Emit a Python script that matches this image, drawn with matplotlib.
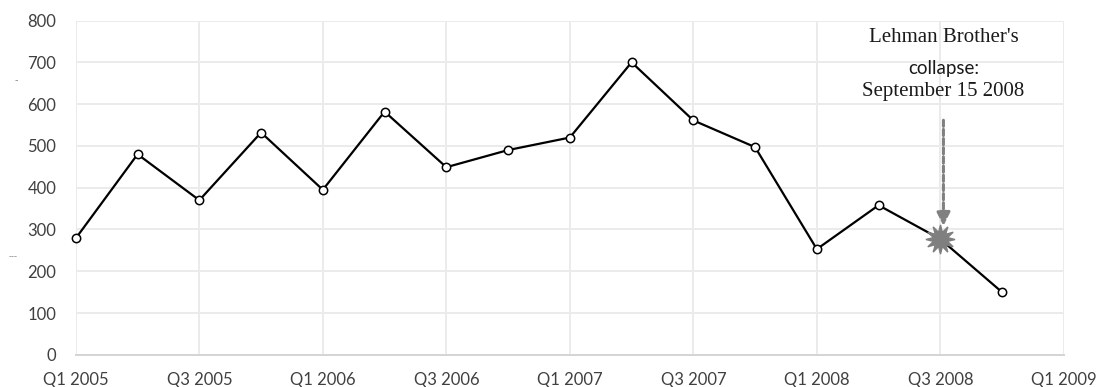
import numpy as np
import matplotlib.pyplot as plt

# Quarterly series, Q1 2005 .. Q4 2008
quarters = ["Q1 2005", "Q2 2005", "Q3 2005", "Q4 2005",
            "Q1 2006", "Q2 2006", "Q3 2006", "Q4 2006",
            "Q1 2007", "Q2 2007", "Q3 2007", "Q4 2007",
            "Q1 2008", "Q2 2008", "Q3 2008", "Q4 2008"]
values = [279, 480, 370, 532, 395, 582, 449, 490,
          520, 700, 561, 497, 253, 358, 277, 150]
tick_labels = ["Q1 2005", "Q3 2005", "Q1 2006", "Q3 2006", "Q1 2007",
               "Q3 2007", "Q1 2008", "Q3 2008", "Q1 2009"]
event_quarter = "Q3 2008"

x = np.arange(len(quarters))
y = np.array(values)
ev = quarters.index(event_quarter)

fig = plt.figure(figsize=(10.99, 3.87), dpi=100)
ax = fig.add_axes([0.069, 0.083, 0.899, 0.864])

tick_font = "Lato"
tick_color = "#404040"

# line + open circle markers (event quarter gets the burst instead)
ax.plot(x, y, color="black", lw=1.6, zorder=3, clip_on=False)
mask = np.arange(len(x)) != ev
ax.plot(x[mask], y[mask], "o", ms=6, mfc="white", mec="black", mew=1.1,
        zorder=4, clip_on=False)
ax.plot(x[ev], y[ev], marker=(12, 1, 0), ms=21, color="#7f7f7f", zorder=5)

# dashed arrow pointing at the event
ax.annotate("", xy=(x[ev] + 0.05, y[ev] + 25), xytext=(x[ev] + 0.05, 568),
            arrowprops=dict(arrowstyle="-|>,head_length=0.8,head_width=0.4",
                            color="#808080", lw=2.2, linestyle=(0, (2, 1))),
            zorder=5)

ax.text(x[ev] + 0.05, 759, "Lehman Brother's", ha="center", va="center",
        family="Liberation Serif", fontsize=15, color="#1a1a1a")
ax.text(x[ev] + 0.05, 686, "collapse:", ha="center", va="center",
        family=tick_font, fontsize=13.5, color="#1a1a1a")
ax.text(x[ev] + 0.05, 630, "September 15 2008", ha="center", va="center",
        family="Liberation Serif", fontsize=15, color="#1a1a1a")

ax.set_xlim(0, 16)
ax.set_ylim(0, 800)
ax.set_xticks(np.arange(0, 17, 2))
ax.set_xticklabels(tick_labels)
ax.set_yticks(np.arange(0, 801, 100))
ax.tick_params(length=0, labelsize=12, colors=tick_color)
ax.tick_params(axis="x", pad=12)
ax.tick_params(axis="y", pad=14)
for lab in ax.get_xticklabels() + ax.get_yticklabels():
    lab.set_family(tick_font)

ax.grid(True, color="#ebebeb", lw=1.4, zorder=0)
for side in ["top", "right", "left"]:
    ax.spines[side].set_visible(False)
ax.spines["bottom"].set_color("#d4d4d4")
ax.spines["bottom"].set_linewidth(1.4)

# small stray marks left of the axis
fig.text(0.013, 0.785, "-", fontsize=7, color="#888888")
fig.text(0.008, 0.33, "---", fontsize=6, color="#888888")

fig.savefig("out.png", dpi=100, facecolor="white")
